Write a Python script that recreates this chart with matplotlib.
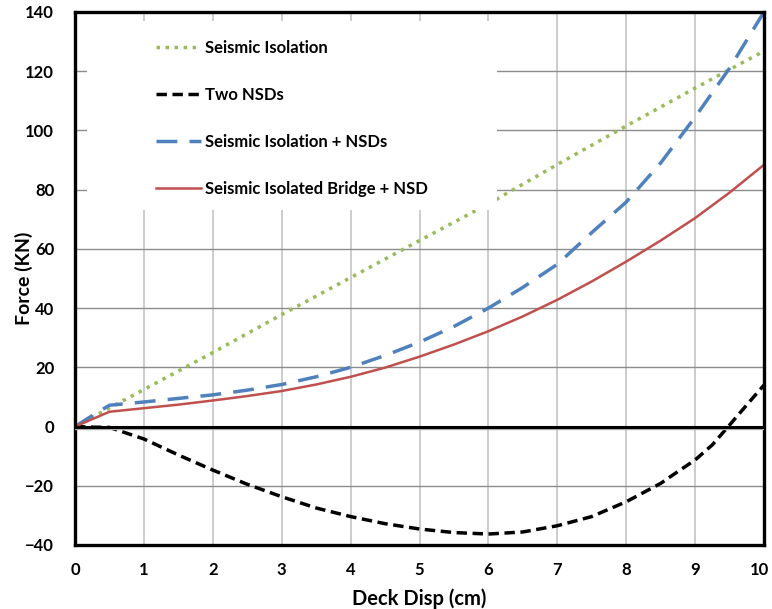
import numpy as np
import matplotlib
matplotlib.use("Agg")
import matplotlib.pyplot as plt
from matplotlib.patches import Rectangle
from matplotlib.transforms import ScaledTranslation

plt.rcParams['font.family'] = ['Lato', 'DejaVu Sans']
plt.rcParams['font.weight'] = 'bold'

# values
x_iso = [0, 0.5, 1, 2, 3, 4, 5, 6, 7, 8, 9, 10]
f_iso = [0, 6.3, 12.5, 25, 37.8, 50.3, 62.8, 75.2, 88.5, 101.5, 114.3, 126.8]

x_nsd = [0, 0.25, 0.5, 1, 1.5, 2, 2.5, 3, 3.5, 4, 4.5, 5, 5.5, 6, 6.5, 7, 7.5, 8, 8.5,
         8.75, 9, 9.25, 9.5, 9.75, 10]
f_nsd = [0, -0.2, -0.3, -4.2, -9.6, -14.7, -19.5, -23.7, -27.5, -30.4, -32.8, -34.6, -35.8,
         -36.3, -35.6, -33.5, -30.4, -25.4, -19.2, -15.2, -11.3, -6.2, 0.5, 7.3, 14]

x_half = [0, 0.25, 0.5, 1, 1.5, 2, 2.5, 3, 3.5, 4, 4.5, 5, 5.5, 6, 6.5, 7, 7.5, 8, 8.5, 9, 9.5, 10]
f_iso_nsd = [0, 3.7, 7.2, 8.3, 9.5, 10.7, 12.3, 14.2, 16.8, 20, 24, 28.5, 33.8,
             40, 47, 54.8, 65.5, 75.8, 89, 104.5, 121, 140]
f_bridge = [0, 2.5, 5.0, 6.2, 7.4, 8.8, 10.3, 12, 14.2, 16.8, 19.9, 23.6, 27.7,
            32.2, 37.2, 42.8, 49, 55.7, 62.8, 70.4, 79, 88.4]

fig = plt.figure(figsize=(7.72, 6.09), dpi=100)
ax = fig.add_axes([0.0972, 0.1051, 0.8924, 0.8752])

ax.plot(x_iso, f_iso, color='#9bbb59', lw=2.5, linestyle=(0, (1, 1.6)), label='Seismic Isolation')
ax.plot(x_nsd, f_nsd, color='black', lw=2.5, linestyle=(0, (3, 1.6)), label='Two NSDs')
ax.plot(x_half, f_iso_nsd, color='#4f81bd', lw=2.5, linestyle=(0, (6, 3.5)), label='Seismic Isolation + NSDs')
ax.plot(x_half, f_bridge, color='#c0504d', lw=1.8, label='Seismic Isolated Bridge + NSD')

ax.axhline(0, color='black', lw=2.2, zorder=3)
ax.axhline(-0.9, color='#b0b0b0', lw=1.0, zorder=2.9)

ax.set_xlim(0, 10)
ax.set_ylim(-40, 140)
ax.set_xticks(range(0, 11))
ax.set_yticks(range(-40, 141, 20))
ax.tick_params(axis='y', length=0, labelsize=12, pad=15)
ax.tick_params(axis='x', length=0, labelsize=12, pad=12)
for lab in ax.get_xticklabels() + ax.get_yticklabels():
    lab.set_fontweight('bold')
# last x label sits right at the figure edge; nudge it left a little
last = ax.get_xticklabels()[-1]
last.set_transform(last.get_transform() + ScaledTranslation(-4 / 100, 0, fig.dpi_scale_trans))

for v in range(1, 10):
    ax.axvline(v, color='#c8c8c8', lw=1.3, zorder=0)
for v in range(-20, 140, 20):
    if v != 0:
        ax.axhline(v, color='#8c8c8c', lw=1.0, zorder=0)

for s in ax.spines.values():
    s.set_linewidth(2.4)
    s.set_color('black')

ax.set_xlabel('Deck Disp (cm)', fontsize=14.5, fontweight='bold', labelpad=8)
ax.set_ylabel('Force (KN)', fontsize=14, fontweight='bold')
ax.yaxis.set_label_coords(-0.061, 0.5)

# opaque legend area
ax.add_patch(Rectangle((0.18, 73), 5.94, 64, facecolor='white', edgecolor='none', zorder=4))

leg = ax.legend(loc='upper left', bbox_to_anchor=(0.0956, 0.976), frameon=False,
                labelspacing=1.87, handlelength=2.7, handletextpad=0.25,
                prop={'weight': 'bold', 'size': 12})
leg.set_zorder(5)

fig.savefig('out.png', dpi=100)
